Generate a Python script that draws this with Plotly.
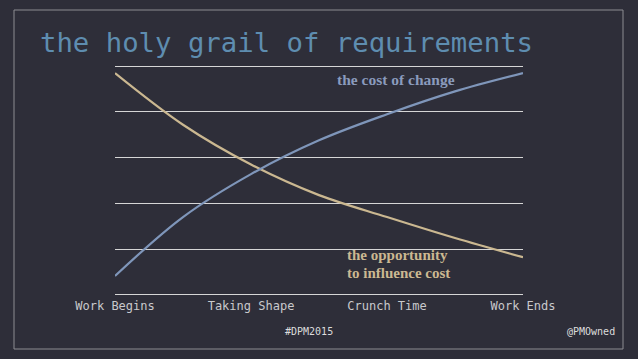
import plotly.graph_objects as go

# ---- data ----
stage_labels = ["Work Begins", "Taking Shape", "Crunch Time", "Work Ends"]
stage_pos = [0, 1, 2, 3]

curve_x = [0.0, 0.5, 1.0, 1.5, 2.0, 2.5, 3.0]
opp_y = [4.85, 3.72, 2.85, 2.18, 1.70, 1.24, 0.82]
cost_y = [0.41, 1.70, 2.64, 3.38, 3.95, 4.45, 4.85]

W, H = 638, 359
Y0, Y1 = -0.05, 5.05
ML, MR, MT, MB = 115, 115, 64, 62
pw = W - ML - MR
ph = H - MT - MB

BG = "#2e2e39"
TAN = "#cbb891"
BLUE = "#7f96ba"

def px_x(p):
    return (p - ML) / pw

def px_y(p):
    return (H - MB - p) / ph

fig = go.Figure()
fig.add_trace(go.Scatter(x=curve_x, y=opp_y, mode="lines",
                         line=dict(color=TAN, width=2.2, shape="spline", smoothing=1.0), hoverinfo="skip"))
fig.add_trace(go.Scatter(x=curve_x, y=cost_y, mode="lines",
                         line=dict(color=BLUE, width=2.2, shape="spline", smoothing=1.0), hoverinfo="skip"))

fig.update_layout(
    width=W, height=H,
    margin=dict(l=ML, r=MR, t=MT, b=MB),
    paper_bgcolor=BG, plot_bgcolor=BG,
    showlegend=False,
    xaxis=dict(range=[0, 3], tickvals=stage_pos, ticktext=stage_labels, showgrid=False, zeroline=False,
               showline=False, ticks="", tickfont=dict(family="DejaVu Sans Mono", size=12, color="#c9c9cc")),
    yaxis=dict(range=[Y0, Y1], dtick=1, tick0=0, showgrid=True, gridcolor="#d6d6d6", gridwidth=1,
               zeroline=False, showticklabels=False, showline=False),
)

fig.add_shape(type="rect", xref="paper", yref="paper",
              x0=px_x(14), x1=px_x(623), y0=px_y(349), y1=px_y(10),
              line=dict(color="#8c8c92", width=1), layer="below")

fig.add_annotation(text="the holy grail of requirements", xref="paper", yref="paper",
                   x=px_x(38), y=px_y(42), xanchor="left", yanchor="middle", showarrow=False,
                   font=dict(family="DejaVu Sans Mono", size=27.3, color="#5e8db0"))
fig.add_annotation(text="the cost of change", x=1.615, y=4.70, xanchor="left", yanchor="middle",
                   showarrow=False, font=dict(family="Liberation Serif", size=15.5, color="#8a9bbd", weight="bold"))
fig.add_annotation(text="the opportunity", x=1.69, y=0.865, xanchor="left", yanchor="middle",
                   showarrow=False, font=dict(family="Liberation Serif", size=15, color=TAN, weight="bold"))
fig.add_annotation(text="to influence cost", x=1.69, y=0.48, xanchor="left", yanchor="middle",
                   showarrow=False, font=dict(family="Liberation Serif", size=15, color=TAN, weight="bold"))
fig.add_annotation(text="#DPM2015", xref="paper", yref="paper", x=px_x(309), y=px_y(331),
                   xanchor="center", yanchor="middle", showarrow=False,
                   font=dict(family="DejaVu Sans Mono", size=10, color="#dcdcdc"))
fig.add_annotation(text="@PMOwned", xref="paper", yref="paper", x=px_x(617), y=px_y(331),
                   xanchor="right", yanchor="middle", showarrow=False,
                   font=dict(family="DejaVu Sans Mono", size=10, color="#dcdcdc"))

fig.write_html("out.html", config={"displayModeBar": False},
               post_script="document.body.style.margin='0';document.body.style.background='%s';" % BG)
